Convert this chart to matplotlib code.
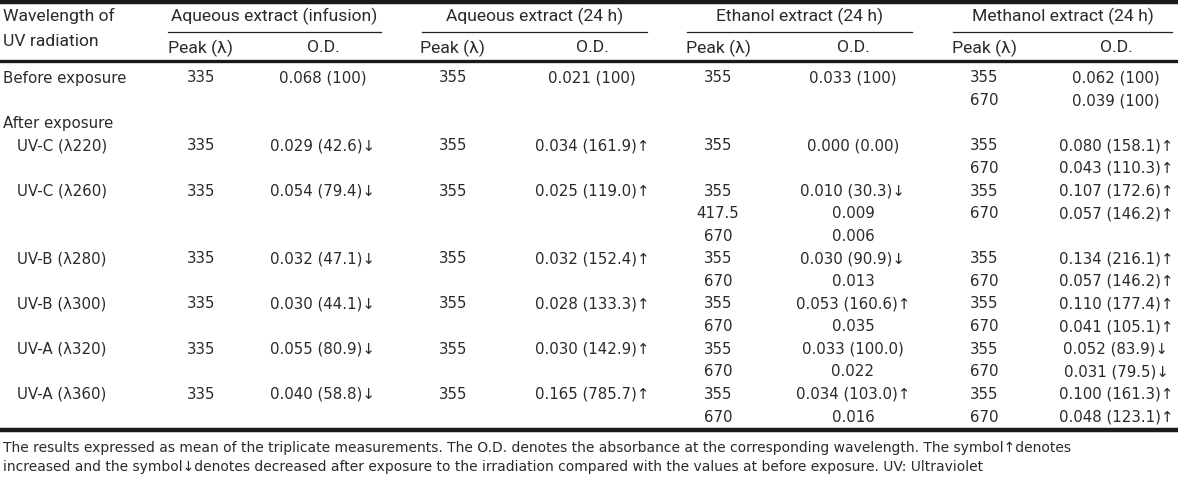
import matplotlib
matplotlib.use('Agg')
import matplotlib.pyplot as plt

# 표 데이터
groups = ['Aqueous extract (infusion)', 'Aqueous extract (24 h)', 'Ethanol extract (24 h)', 'Methanol extract (24 h)']
row_labels = ['Before exposure', '', 'After exposure', 'UV-C (λ220)', '', 'UV-C (λ260)', '', '',
              'UV-B (λ280)', '', 'UV-B (λ300)', '', 'UV-A (λ320)', '', 'UV-A (λ360)', '']
indent = [0, 0, 0, 1, 0, 1, 0, 0, 1, 0, 1, 0, 1, 0, 1, 0]

aq_inf_peak = ['335', '', '', '335', '', '335', '', '', '335', '', '335', '', '335', '', '335', '']
aq_inf_od = ['0.068 (100)', '', '', '0.029 (42.6)↓', '', '0.054 (79.4)↓', '', '', '0.032 (47.1)↓', '',
             '0.030 (44.1)↓', '', '0.055 (80.9)↓', '', '0.040 (58.8)↓', '']
aq24_peak = ['355', '', '', '355', '', '355', '', '', '355', '', '355', '', '355', '', '355', '']
aq24_od = ['0.021 (100)', '', '', '0.034 (161.9)↑', '', '0.025 (119.0)↑', '', '', '0.032 (152.4)↑', '',
           '0.028 (133.3)↑', '', '0.030 (142.9)↑', '', '0.165 (785.7)↑', '']
eth_peak = ['355', '', '', '355', '', '355', '417.5', '670', '355', '670', '355', '670', '355', '670', '355', '670']
eth_od = ['0.033 (100)', '', '', '0.000 (0.00)', '', '0.010 (30.3)↓', '0.009', '0.006', '0.030 (90.9)↓', '0.013',
          '0.053 (160.6)↑', '0.035', '0.033 (100.0)', '0.022', '0.034 (103.0)↑', '0.016']
met_peak = ['355', '670', '', '355', '670', '355', '670', '', '355', '670', '355', '670', '355', '670', '355', '670']
met_od = ['0.062 (100)', '0.039 (100)', '', '0.080 (158.1)↑', '0.043 (110.3)↑', '0.107 (172.6)↑', '0.057 (146.2)↑', '',
          '0.134 (216.1)↑', '0.057 (146.2)↑', '0.110 (177.4)↑', '0.041 (105.1)↑', '0.052 (83.9)↓', '0.031 (79.5)↓',
          '0.100 (161.3)↑', '0.048 (123.1)↑']

note = ['The results expressed as mean of the triplicate measurements. The O.D. denotes the absorbance at the corresponding wavelength. The symbol↑denotes',
        'increased and the symbol↓denotes decreased after exposure to the irradiation compared with the values at before exposure. UV: Ultraviolet']

cols = [(aq_inf_peak, aq_inf_od), (aq24_peak, aq24_od), (eth_peak, eth_od), (met_peak, met_od)]

# 레이아웃 (픽셀 좌표)
peak_x = [201, 453, 718, 984]
od_x = [323, 592, 853, 1116]
line_span = [(168, 381), (422, 647), (687, 912), (953, 1172)]
head_font = ['Roboto', 'DejaVu Sans']
txt = '#2a2a2a'

fig = plt.figure(figsize=(11.78, 4.82), dpi=100)
ax = fig.add_axes([0, 0, 1, 1])
ax.set_xlim(0, 1178)
ax.set_ylim(482, 0)
ax.axis('off')

# 가로줄
ax.axhline(2, color='#1a1a1a', lw=3.2)
ax.axhline(61, color='#1a1a1a', lw=2.4)
ax.axhline(430, color='#1a1a1a', lw=3.2)

ax.text(3, 16, 'Wavelength of', family=head_font, fontsize=12.6, va='center', color=txt)
ax.text(3, 41, 'UV radiation', family=head_font, fontsize=12.6, va='center', color=txt)

for i, g in enumerate(groups):
    x0, x1 = line_span[i]
    ax.text((x0 + x1) / 2, 16, g, family=head_font, fontsize=12.6, ha='center', va='center', color=txt)
    ax.plot([x0, x1], [32, 32], color='#222222', lw=0.9)
    ax.text(peak_x[i], 48, 'Peak (λ)', family=head_font, fontsize=12.6, ha='center', va='center', color=txt)
    ax.text(od_x[i], 48, 'O.D.', family=head_font, fontsize=12.6, ha='center', va='center', color=txt)

for r, lab in enumerate(row_labels):
    y = 78 + r * 22.6
    ax.text(3 + 14 * indent[r], y, lab, fontsize=10.8, va='center', color=txt)
    for i, (pk, od) in enumerate(cols):
        ax.text(peak_x[i], y, pk[r], fontsize=10.8, ha='center', va='center', color=txt)
        ax.text(od_x[i], y, od[r], fontsize=10.8, ha='center', va='center', color=txt)

ax.text(3, 448, note[0], fontsize=10, va='center', color=txt)
ax.text(3, 467, note[1], fontsize=10, va='center', color=txt)

plt.savefig('out.png', dpi=100)
